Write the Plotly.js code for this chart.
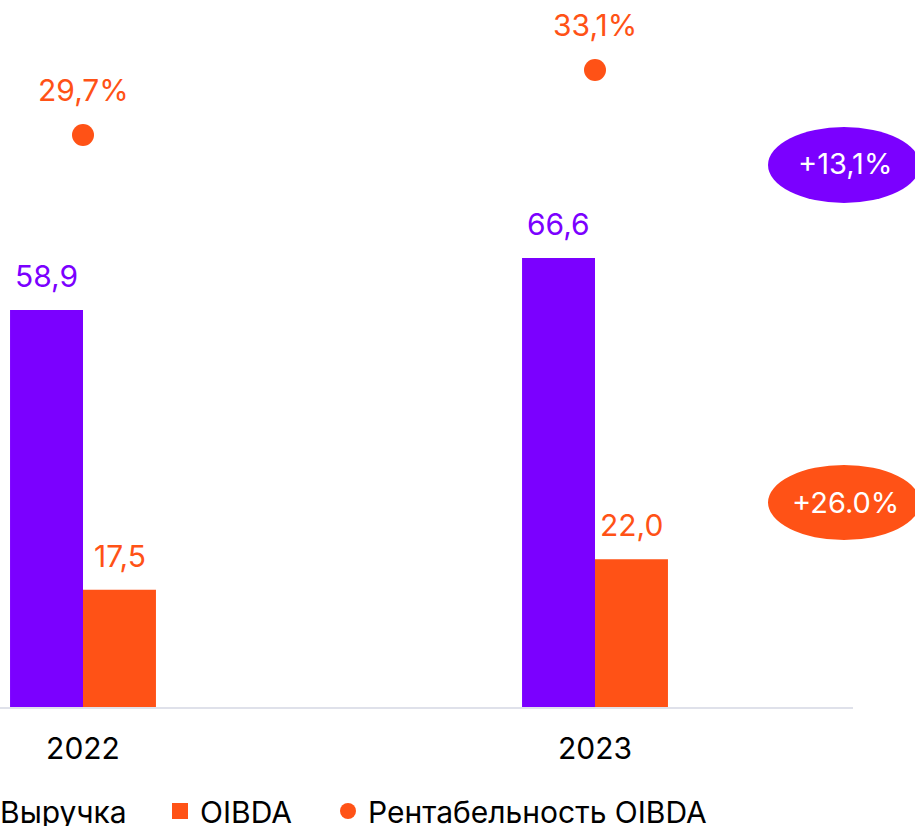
<!DOCTYPE html>
<html>
<head>
<meta charset="utf-8">
<script src="https://cdn.plot.ly/plotly-3.0.1.min.js"></script>
<style>
html,body{margin:0;padding:0;background:#fff;overflow:hidden;width:915px;height:826px;}
#chart{position:absolute;left:-40px;top:0;width:955px;height:826px;}
</style>
</head>
<body>
<div id="chart"></div>
<script>
const years = ['2022', '2023'];
const revenue = [58.9, 66.6];
const oibda = [17.5, 22.0];
const margin = [29.7, 33.1];
const revenueLabels = ['58,9', '66,6'];
const oibdaLabels = ['17,5', '22,0'];
const marginLabels = ['29,7%', '33,1%'];
const seriesNames = ['Выручка', 'OIBDA', 'Рентабельность OIBDA'];
const growthLabels = ['+13,1%', '+26.0%'];

const PURPLE = '#7B00FF';
const ORANGE = '#FF5216';
const FONT = 'Inter, Roboto, sans-serif';

const traces = [
  {type: 'bar', name: seriesNames[0], x: years, y: revenue, marker: {color: PURPLE}, hoverinfo: 'none', showlegend: false},
  {type: 'bar', name: seriesNames[1], x: years, y: oibda, marker: {color: ORANGE}, hoverinfo: 'none', showlegend: false},
  {type: 'scatter', mode: 'markers', name: seriesNames[2], x: years, y: margin, yaxis: 'y2',
   marker: {color: ORANGE, size: 22, symbol: 'circle'}, hoverinfo: 'none', showlegend: false},
  // legend entries (same series, drawn with larger legend symbols)
  {type: 'scatter', mode: 'markers', name: seriesNames[0], x: [null], y: [null], legend: 'legend',
   marker: {color: PURPLE, size: 20, symbol: 'square'}, hoverinfo: 'none'},
  {type: 'scatter', mode: 'markers', name: seriesNames[1], x: [null], y: [null], legend: 'legend2',
   marker: {color: ORANGE, size: 20, symbol: 'square'}, hoverinfo: 'none'},
  {type: 'scatter', mode: 'markers', name: seriesNames[2], x: [null], y: [null], legend: 'legend3',
   marker: {color: ORANGE, size: 20, symbol: 'circle'}, hoverinfo: 'none'}
];

const annotations = [];
years.forEach((yr, i) => {
  annotations.push({x: i, y: revenue[i], xref: 'x', yref: 'y', text: revenueLabels[i], showarrow: false,
    xshift: -36.5, yshift: 34, xanchor: 'center', yanchor: 'middle', font: {family: FONT, size: 30, color: PURPLE}});
  annotations.push({x: i, y: oibda[i], xref: 'x', yref: 'y', text: oibdaLabels[i], showarrow: false,
    xshift: 36.5, yshift: 34, xanchor: 'center', yanchor: 'middle', font: {family: FONT, size: 30, color: ORANGE}});
  annotations.push({x: i, y: margin[i], xref: 'x', yref: 'y2', text: marginLabels[i], showarrow: false,
    yshift: 45, xanchor: 'center', yanchor: 'middle', font: {family: FONT, size: 30, color: ORANGE}});
});
annotations.push({x: 845/915, y: (708-164)/708, xref: 'paper', yref: 'paper', text: growthLabels[0], showarrow: false,
  xanchor: 'center', yanchor: 'middle', font: {family: FONT, size: 29, color: '#ffffff'}});
annotations.push({x: 845/915, y: (708-502)/708, xref: 'paper', yref: 'paper', text: growthLabels[1], showarrow: false,
  xanchor: 'center', yanchor: 'middle', font: {family: FONT, size: 29, color: '#ffffff'}});

const shapes = [
  {type: 'line', xref: 'paper', yref: 'paper', x0: 0, x1: 853/915, y0: 0, y1: 0, line: {color: '#DFE1EA', width: 2}},
  {type: 'circle', xref: 'paper', yref: 'paper', x0: 768/915, x1: 920/915, y0: (708-203)/708, y1: (708-127)/708,
   fillcolor: PURPLE, line: {width: 0}},
  {type: 'circle', xref: 'paper', yref: 'paper', x0: 768/915, x1: 920/915, y0: (708-540)/708, y1: (708-465)/708,
   fillcolor: ORANGE, line: {width: 0}}
];

const legendBase = {orientation: 'h', xanchor: 'left', y: (708-811)/708, yanchor: 'middle',
  font: {family: FONT, size: 30, color: '#000000'}, bgcolor: 'rgba(0,0,0,0)'};

const layout = {
  width: 955, height: 826,
  margin: {l: 40, r: 0, t: 0, b: 118, autoexpand: false},
  paper_bgcolor: '#ffffff', plot_bgcolor: '#ffffff',
  font: {family: FONT, color: '#000000'},
  barmode: 'group', bargap: 0.715, bargroupgap: 0,
  showlegend: true,
  legend: Object.assign({}, legendBase, {x: -40/915}),
  legend2: Object.assign({}, legendBase, {x: 160/915}),
  legend3: Object.assign({}, legendBase, {x: 328/915}),
  xaxis: {type: 'category', range: [-83/512, 832/512], showgrid: false, zeroline: false, showline: false,
    ticks: 'outside', ticklen: 14, tickcolor: 'rgba(0,0,0,0)', tickfont: {family: FONT, size: 30, color: '#000000'}, fixedrange: true},
  yaxis: {range: [0, 708/6.757], visible: false, showgrid: false, zeroline: false, fixedrange: true},
  yaxis2: {range: [29.7 - 573/19.12, 29.7 - 573/19.12 + 708/19.12], overlaying: 'y', visible: false, showgrid: false, zeroline: false, fixedrange: true},
  annotations: annotations,
  shapes: shapes
};

Plotly.newPlot('chart', traces, layout, {displayModeBar: false, staticPlot: true});
</script>
</body>
</html>
